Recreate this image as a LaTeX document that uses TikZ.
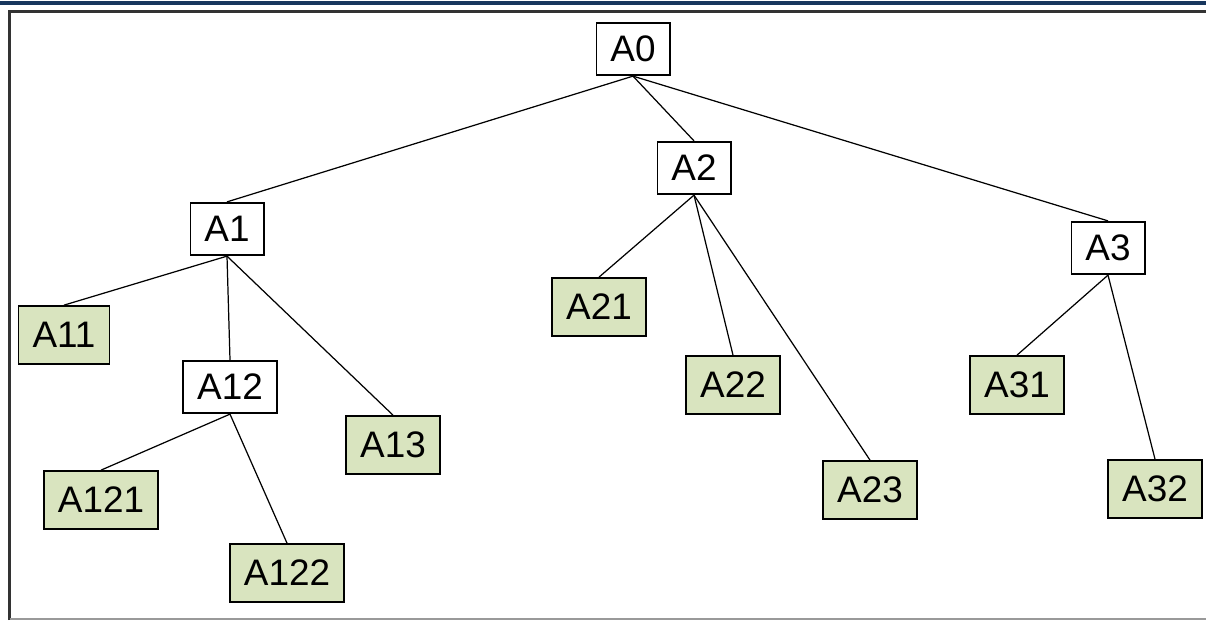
\documentclass[tikz,border=0pt]{standalone}
\usepackage{fontspec}
\setmainfont{Liberation Sans}
\usepackage{tikz}
\definecolor{leafgreen}{HTML}{D9E4BF}
\definecolor{barblue}{HTML}{17365D}

\begin{document}
\begin{tikzpicture}[x=0.02cm, y=-0.02cm, line width=0.7pt,
        box/.style={rectangle, draw, line width=1pt, fill=white, inner xsep=8pt, minimum height=1.05cm, font=\fontsize{21}{25}\selectfont},
        leaf/.style={box, fill=leafgreen, minimum height=1.16cm}]
        \useasboundingbox (0,0) rectangle (1206,620);
        % page rules
        \fill[barblue] (0,1) rectangle (1206,5);
        \draw[line width=1.7pt, black!80] (9.5,620) -- (9.5,11) -- (1206,11);
        \draw[line width=0.6pt, black!40] (9.5,619) -- (1206,619);

        \node[box] (a0) at (633,49) {A0};
        \node[box] (a1) at (227,229) {A1};
        \node[box] (a2) at (694,168) {A2};
        \node[box] (a3) at (1108,248) {A3};
        \node[leaf] (a11) at (64,335) {A11};
        \node[box] (a12) at (230,387) {A12};
        \node[leaf] (a13) at (393,445) {A13};
        \node[leaf] (a121) at (101,500) {A121};
        \node[leaf] (a122) at (287,573) {A122};
        \node[leaf] (a21) at (599,307) {A21};
        \node[leaf] (a22) at (733,385) {A22};
        \node[leaf] (a23) at (870,490) {A23};
        \node[leaf] (a31) at (1017,385) {A31};
        \node[leaf] (a32) at (1155,489) {A32};

        \draw (a0.south) -- (a1.north);
        \draw (a0.south) -- (a2.north);
        \draw (a0.south) -- (a3.north);
        \draw (a1.south) -- (a11.north);
        \draw (a1.south) -- (a12.north);
        \draw (a1.south) -- (a13.north);
        \draw (a12.south) -- (a121.north);
        \draw (a12.south) -- (a122.north);
        \draw (a2.south) -- (a21.north);
        \draw (a2.south) -- (a22.north);
        \draw (a2.south) -- (a23.north);
        \draw (a3.south) -- (a31.north);
        \draw (a3.south) -- (a32.north);
    \end{tikzpicture}
\end{document}
